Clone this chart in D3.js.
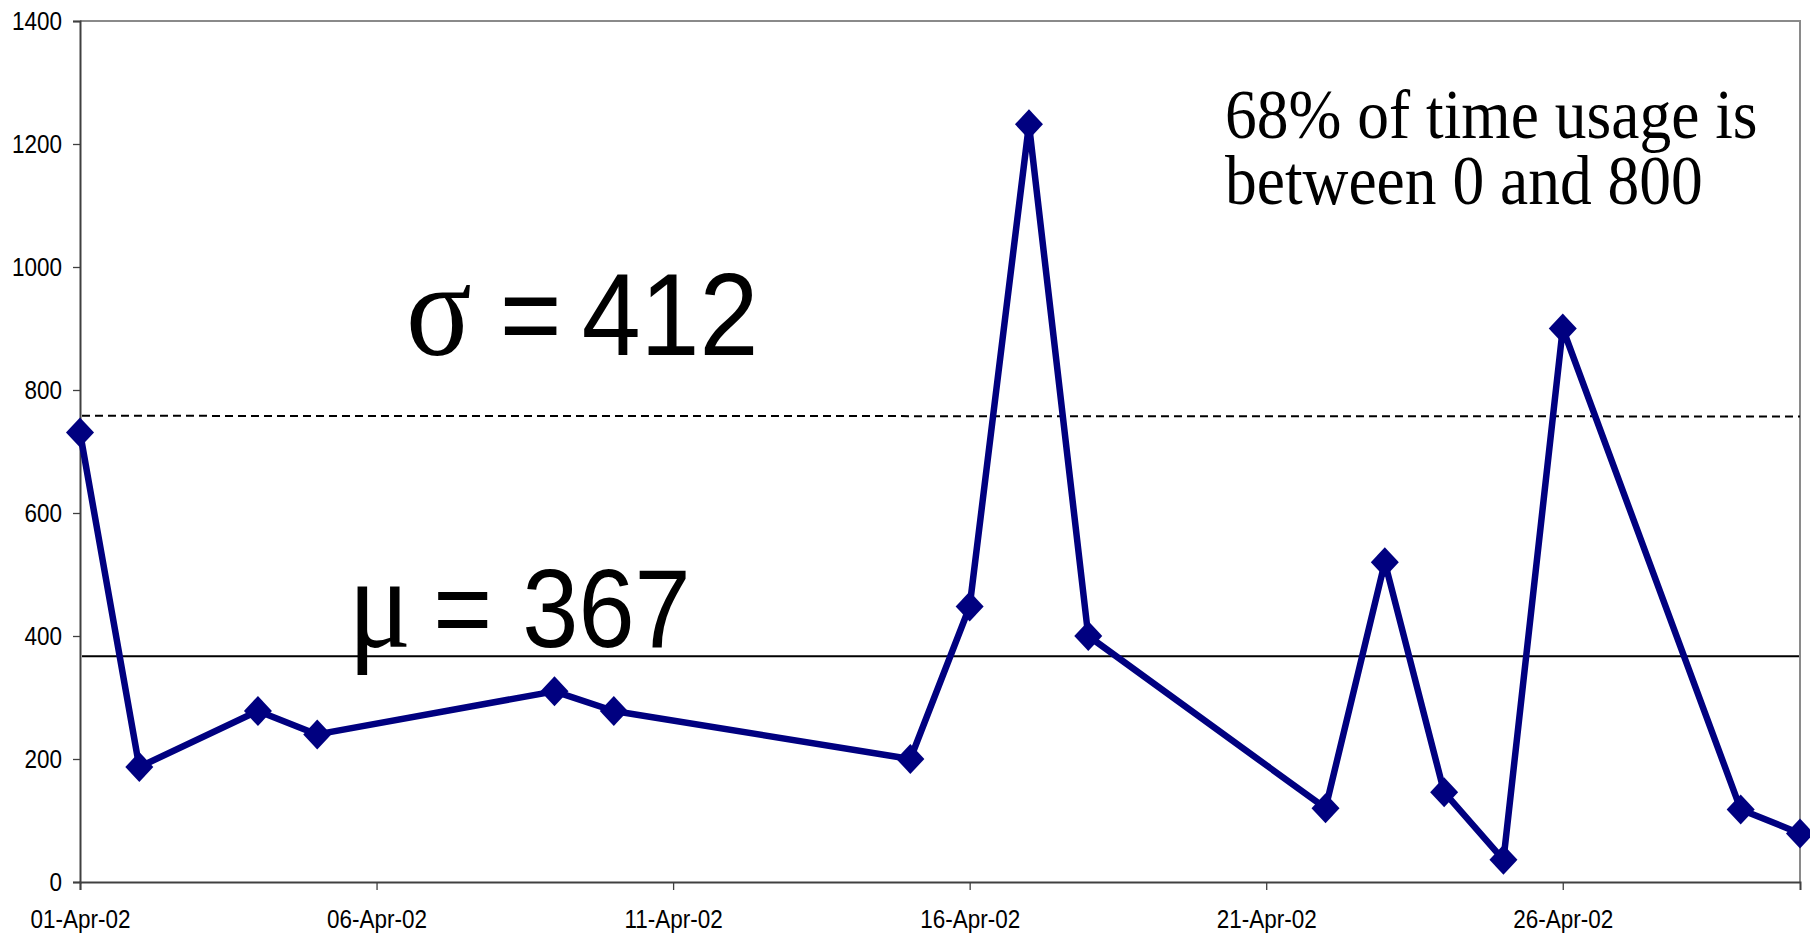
<!DOCTYPE html>
<html>
<head>
<meta charset="utf-8">
<script src="https://cdn.jsdelivr.net/npm/d3@7"></script>
<style>
  html, body { margin: 0; padding: 0; background: #fff; }
  svg { display: block; }
</style>
</head>
<body>
<svg id="chart" width="1810" height="936"></svg>
<script>
// Daily time usage, April 2002
const dates = ["2002-04-01","2002-04-02","2002-04-04","2002-04-05","2002-04-09","2002-04-10",
               "2002-04-15","2002-04-16","2002-04-17","2002-04-18","2002-04-22","2002-04-23",
               "2002-04-24","2002-04-25","2002-04-26","2002-04-29","2002-04-30"];
const usage = [731, 187, 278, 240, 310, 278, 200, 448, 1232, 400, 120, 520, 146, 36, 900, 118, 79];

// Summary statistics and reference lines
const meanValue = 367;
const sigmaValue = 412;
const upperLine = [758, 757];          // dashed band line, start / end

const xDomain = ["2002-04-01", "2002-04-30"];
const xTickDates = ["2002-04-01","2002-04-06","2002-04-11","2002-04-16","2002-04-21","2002-04-26"];
const yTicks = [0, 200, 400, 600, 800, 1000, 1200, 1400];
const noteLines = ["68% of time usage is", "between 0 and 800"];

const parse = d3.utcParse("%Y-%m-%d");
const fmt = d3.utcFormat("%d-%b-%y");

const margin = { left: 80, right: 10, top: 21, bottom: 54 };
const W = 1810, H = 936;
const stretch = 1.11;   // text is drawn slightly tall

const svg = d3.select("#chart");
const x = d3.scaleUtc().domain(xDomain.map(parse)).range([margin.left, W - margin.right]);
const y = d3.scaleLinear().domain([0, 1400]).range([H - margin.bottom, margin.top]);

const sans = "'Liberation Sans', Arial, sans-serif";
const serif = "'Liberation Serif', 'Times New Roman', serif";

// plot frame (top and right edges)
svg.append("path")
  .attr("d", `M${x.range()[0]},${y(1400)} H${x.range()[1]} V${y(0)}`)
  .attr("fill", "none").attr("stroke", "#8a8a8a").attr("stroke-width", 2);

// y axis
const yAxis = svg.append("g")
  .attr("transform", `translate(${margin.left},0)`)
  .call(d3.axisLeft(y).tickValues(yTicks).tickSize(7).tickPadding(11).tickFormat(d3.format("d")));
yAxis.select(".domain").attr("stroke", "#404040").attr("stroke-width", 2);
yAxis.selectAll(".tick line").attr("stroke", "#404040").attr("stroke-width", 1.3);
yAxis.selectAll(".tick text")
  .attr("font-family", sans).attr("font-size", 22.5).attr("fill", "#000")
  .attr("dy", null).attr("dominant-baseline", "central")
  .attr("transform", `scale(1,${stretch})`);

// x axis
const xAxis = svg.append("g")
  .attr("transform", `translate(0,${y(0)})`)
  .call(d3.axisBottom(x).tickValues(xTickDates.map(parse)).tickSize(8).tickFormat(fmt));
xAxis.select(".domain").attr("stroke", "#404040").attr("stroke-width", 2);
xAxis.selectAll(".tick line").attr("stroke", "#404040").attr("stroke-width", 1.3);
xAxis.selectAll(".tick text")
  .attr("font-family", sans).attr("font-size", 22.5).attr("fill", "#000")
  .attr("y", 0).attr("dy", 0)
  .attr("transform", `translate(0,46) scale(1,${stretch})`);

// dashed upper line
svg.append("line")
  .attr("x1", x.range()[0] + 2).attr("x2", x.range()[1])
  .attr("y1", y(upperLine[0])).attr("y2", y(upperLine[1]))
  .attr("stroke", "#000").attr("stroke-width", 2).attr("stroke-dasharray", "8,5");

// mean line
svg.append("line")
  .attr("x1", x.range()[0] + 2).attr("x2", x.range()[1] - 1)
  .attr("y1", y(meanValue)).attr("y2", y(meanValue))
  .attr("stroke", "#000").attr("stroke-width", 2);

// usage series
const pts = dates.map((d, i) => ({ date: parse(d), value: usage[i] }));
const navy = "#000080";
svg.append("path")
  .datum(pts)
  .attr("fill", "none").attr("stroke", navy).attr("stroke-width", 6.5)
  .attr("stroke-linejoin", "round")
  .attr("d", d3.line().x(d => x(d.date)).y(d => y(d.value)));

svg.append("g").selectAll("path")
  .data(pts).join("path")
  .attr("transform", d => `translate(${x(d.date)},${y(d.value)})`)
  .attr("d", "M0,-15L14,0L0,15L-14,0Z")
  .attr("fill", navy);

// sigma label
const sig = svg.append("text")
  .attr("transform", `translate(406,355) scale(1,${stretch})`)
  .attr("font-size", 106).attr("fill", "#000");
sig.append("tspan").attr("font-family", serif).attr("font-size", 122).text("σ");
sig.append("tspan").attr("font-family", sans).attr("dx", 28).text("=");
sig.append("tspan").attr("font-family", sans).attr("dx", 20).text(d3.format("d")(sigmaValue));

// mu label
const mu = svg.append("text")
  .attr("transform", `translate(348,647) scale(1,${stretch})`)
  .attr("font-size", 101).attr("fill", "#000");
mu.append("tspan").attr("font-family", serif).attr("font-size", 118).text("μ");
mu.append("tspan").attr("font-family", sans).attr("dx", 22).text("=");
mu.append("tspan").attr("font-family", sans).attr("dx", 30).text(d3.format("d")(meanValue));

// note, two lines in one text block
const note = svg.append("text")
  .attr("transform", `translate(1225,138) scale(1,${stretch})`)
  .attr("font-family", serif).attr("font-size", 63.5).attr("fill", "#000");
note.selectAll("tspan")
  .data(noteLines).join("tspan")
  .attr("x", 0).attr("y", (d, i) => i * 66 / stretch)
  .text(d => d);
</script>
</body>
</html>
